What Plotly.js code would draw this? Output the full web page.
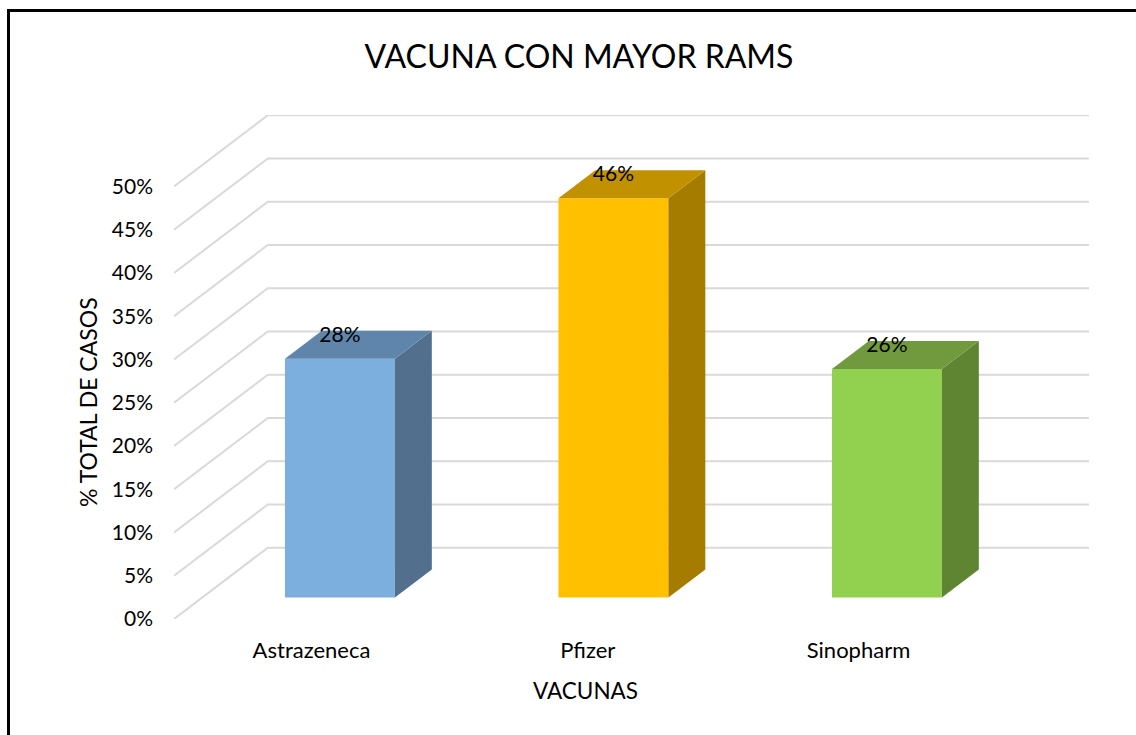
<!DOCTYPE html>
<html>
<head>
<meta charset="utf-8">
<script src="https://cdn.plot.ly/plotly-3.0.1.min.js"></script>
<style>
  body { margin: 0; background: #fff; }
  #marco { position: absolute; left: 7px; top: 9px; right: 0; bottom: 0; border-left: 3px solid #000; border-top: 3px solid #000; pointer-events: none; }
</style>
</head>
<body>
<div id="myDiv" style="width:1136px;height:735px;"></div>
<div id="marco"></div>
<script>
var vacunas = ["Astrazeneca", "Pfizer", "Sinopharm"];
var porcentaje = [27.6, 46.15, 26.4];
var etiquetas = ["28%", "46%", "26%"];
var marcas = [0, 5, 10, 15, 20, 25, 30, 35, 40, 45, 50];
var marcasTexto = ["0%", "5%", "10%", "15%", "20%", "25%", "30%", "35%", "40%", "45%", "50%"];

var colorFrente = ["#7CAEDE", "#FFC000", "#92D050"];
var colorLado = ["#536F8E", "#A67C00", "#5F8432"];
var colorArriba = ["#5F85AB", "#C29100", "#709A3D"];

// the fake 3d: everything in axis units
var suelo = 2.49;      // where the bars stand, above the front 0%
var fondoY = 8.25;     // front plane to back wall
var fondoX = 0.343;
var anchoBarra = 0.402;
var corrido = 0.104;   // bars sit right of their label
var hondoX = 0.135;    // bar depth
var hondoY = 3.24;
var rangoX = [-0.5027, 2.8428];
var rangoY = [0, 58.27];

var data = [];

var centros = [];
for (var i = 0; i < vacunas.length; i++) {
  centros.push(i + corrido);
}

data.push({
  type: "bar",
  x: centros,
  y: porcentaje,
  base: suelo,
  width: anchoBarra,
  marker: { color: colorFrente, line: { width: 0 } },
  hoverinfo: "skip"
});

// side and top faces
for (var i = 0; i < vacunas.length; i++) {
  var izq = centros[i] - anchoBarra / 2;
  var der = centros[i] + anchoBarra / 2;
  var tope = suelo + porcentaje[i];
  data.push({
    type: "scatter", mode: "lines", fill: "toself",
    x: [der, der + hondoX, der + hondoX, der, der],
    y: [suelo, suelo + hondoY, tope + hondoY, tope, suelo],
    fillcolor: colorLado[i],
    line: { width: 0 },
    hoverinfo: "skip"
  });
  data.push({
    type: "scatter", mode: "lines", fill: "toself",
    x: [izq, der, der + hondoX, izq + hondoX, izq],
    y: [tope, tope, tope + hondoY, tope + hondoY, tope],
    fillcolor: colorArriba[i],
    line: { width: 0 },
    hoverinfo: "skip"
  });
}

// data labels
var etiquetaY = [];
for (var i = 0; i < vacunas.length; i++) {
  etiquetaY.push(suelo + porcentaje[i] + 2.55);
}
data.push({
  type: "scatter",
  mode: "text",
  x: centros,
  y: etiquetaY,
  text: etiquetas,
  textposition: "middle center",
  textfont: { family: "Lato, sans-serif", size: 21, color: "#000" },
  hoverinfo: "skip"
});

// gridlines go up the side wall and along the back
var lineas = [];
for (var i = 0; i < marcas.length; i++) {
  lineas.push({
    type: "path",
    xref: "x", yref: "y",
    layer: "below",
    path: "M " + rangoX[0] + " " + marcas[i] +
          " L " + (rangoX[0] + fondoX) + " " + (marcas[i] + fondoY) +
          " L " + rangoX[1] + " " + (marcas[i] + fondoY),
    line: { color: "#D9D9D9", width: 2 }
  });
}

var layout = {
  width: 1136,
  height: 735,
  showlegend: false,
  paper_bgcolor: "#fff",
  plot_bgcolor: "rgba(0,0,0,0)",
  margin: { l: 174, r: 47, t: 115, b: 116 },
  font: { family: "Lato, sans-serif", color: "#000" },
  title: {
    text: "VACUNA CON MAYOR RAMS",
    font: { family: "Lato, sans-serif", size: 32, color: "#000" },
    xref: "container", yref: "container",
    x: 579 / 1136, y: 1 - 57 / 735,
    xanchor: "center", yanchor: "middle"
  },
  xaxis: {
    range: rangoX,
    tickmode: "array",
    tickvals: [0, 1.01, 2],
    ticktext: vacunas,
    showgrid: false, zeroline: false, showline: false,
    ticks: "",
    ticklabelstandoff: 16,
    tickfont: { size: 22 }
  },
  yaxis: {
    range: rangoY,
    tickmode: "array",
    tickvals: marcas,
    ticktext: marcasTexto,
    showgrid: false, zeroline: false, showline: false,
    ticks: "",
    ticklabelstandoff: 20,
    tickfont: { size: 21 }
  },
  // the axis titles are off centre in the original, so they go here
  annotations: [
    {
      text: "VACUNAS", font: { size: 22.5 }, showarrow: false,
      xref: "paper", yref: "paper",
      x: (585 - 174) / 915, y: (619 - 690) / 504,
      xanchor: "center", yanchor: "middle"
    },
    {
      text: "% TOTAL DE CASOS", font: { size: 23 }, showarrow: false, textangle: -90,
      xref: "paper", yref: "paper",
      x: (88 - 174) / 915, y: (619 - 402) / 504,
      xanchor: "center", yanchor: "middle"
    }
  ],
  shapes: lineas
};

Plotly.newPlot("myDiv", data, layout, { displayModeBar: false, staticPlot: true });
</script>
</body>
</html>
